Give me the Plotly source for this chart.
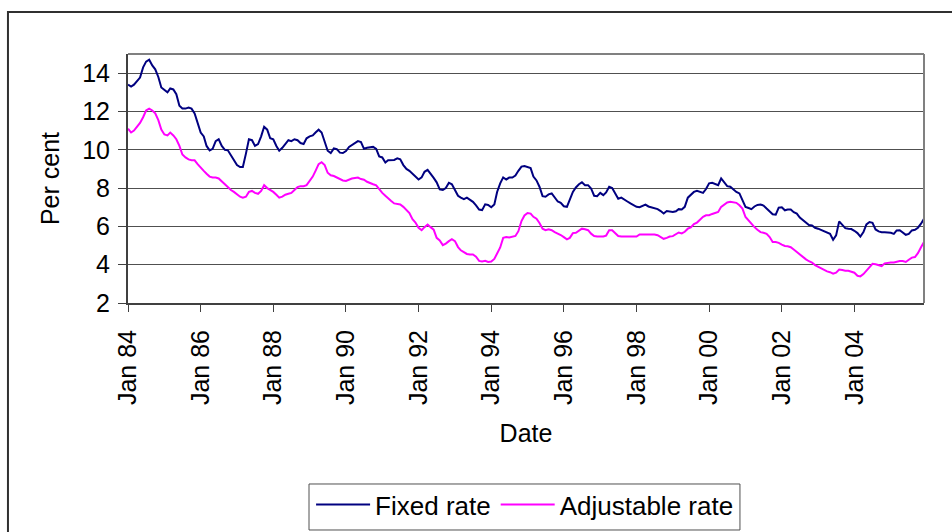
import pandas as pd
import plotly.graph_objects as go

# Monthly observations, Jan 1984 - Dec 2005
dates = pd.date_range("1984-01-01", periods=264, freq="MS")

fixed_rate = [
    13.40, 13.30, 13.40, 13.56, 13.77, 14.3, 14.6, 14.7, 14.4, 14.2,
    13.8, 13.25, 13.1, 13.0, 13.2, 13.15, 12.9, 12.3, 12.15, 12.15,
    12.2, 12.15, 11.9, 11.4, 10.9, 10.7, 10.2, 9.97, 10.05, 10.45,
    10.55, 10.2, 10.0, 9.97, 9.7, 9.4, 9.2, 9.1, 9.1, 9.8,
    10.55, 10.5, 10.2, 10.3, 10.7, 11.2, 11.05, 10.6, 10.55, 10.2,
    9.95, 10.1, 10.3, 10.5, 10.45, 10.55, 10.5, 10.35, 10.3, 10.6,
    10.7, 10.75, 10.9, 11.05, 10.9, 10.45, 9.95, 9.83, 10.07, 10.03,
    9.85, 9.83, 9.93, 10.15, 10.25, 10.35, 10.45, 10.4, 10.05, 10.1,
    10.12, 10.15, 10.05, 9.65, 9.6, 9.33, 9.45, 9.47, 9.47, 9.55,
    9.5, 9.2, 9.0, 8.9, 8.75, 8.56, 8.45, 8.56, 8.85, 8.95,
    8.77, 8.53, 8.3, 7.93, 7.9, 8.0, 8.28, 8.2, 7.9, 7.6,
    7.5, 7.42, 7.5, 7.37, 7.28, 7.1, 6.88, 6.85, 7.15, 7.12,
    7.0, 7.15, 7.8, 8.25, 8.56, 8.45, 8.55, 8.55, 8.65, 8.9,
    9.12, 9.15, 9.1, 9.04, 8.6, 8.4, 8.07, 7.58, 7.55, 7.67,
    7.72, 7.5, 7.3, 7.23, 7.05, 7.02, 7.37, 7.8, 8.03, 8.2,
    8.3, 8.15, 8.15, 7.98, 7.6, 7.58, 7.75, 7.63, 7.77, 8.07,
    8.0, 7.72, 7.44, 7.5, 7.42, 7.3, 7.2, 7.1, 7.02, 7.0,
    7.07, 7.14, 7.04, 7.0, 6.96, 6.9, 6.8, 6.67, 6.8, 6.79,
    6.75, 6.79, 6.9, 6.88, 7.02, 7.5, 7.67, 7.8, 7.86, 7.82,
    7.75, 7.95, 8.25, 8.28, 8.2, 8.15, 8.5, 8.28, 8.1, 8.07,
    7.93, 7.8, 7.72, 7.37, 7.02, 6.96, 6.9, 7.04, 7.12, 7.14,
    7.09, 6.93, 6.8, 6.63, 6.61, 6.98, 7.0, 6.84, 6.88, 6.88,
    6.74, 6.67, 6.46, 6.32, 6.18, 6.07, 6.05, 5.93, 5.88, 5.82,
    5.74, 5.7, 5.61, 5.3, 5.53, 6.26, 6.09, 5.91, 5.88, 5.86,
    5.77, 5.65, 5.47, 5.7, 6.1, 6.23, 6.19, 5.84, 5.74, 5.7,
    5.7, 5.7, 5.67, 5.61, 5.79, 5.8, 5.7, 5.56, 5.61, 5.79,
    5.82, 5.93, 6.14, 6.4,
]

adjustable_rate = [
    11.1, 10.9, 11.0, 11.2, 11.4, 11.7, 12.05, 12.15, 12.05, 11.9,
    11.55, 11.05, 10.8, 10.75, 10.9, 10.75, 10.55, 10.2, 9.75, 9.6,
    9.5, 9.45, 9.45, 9.25, 9.1, 8.9, 8.75, 8.6, 8.55, 8.55,
    8.5, 8.35, 8.15, 8.05, 7.9, 7.8, 7.65, 7.55, 7.5, 7.55,
    7.8, 7.85, 7.75, 7.7, 7.85, 8.15, 8.0, 7.9, 7.8, 7.65,
    7.5, 7.55, 7.65, 7.7, 7.75, 7.9, 8.05, 8.1, 8.1, 8.15,
    8.4, 8.6, 8.9, 9.25, 9.35, 9.2, 8.8, 8.67, 8.63, 8.55,
    8.5, 8.4, 8.37, 8.45, 8.5, 8.53, 8.55, 8.47, 8.44, 8.33,
    8.25, 8.2, 8.14, 7.93, 7.75, 7.6, 7.45, 7.33, 7.2, 7.16,
    7.14, 7.02, 6.85, 6.7, 6.37, 6.2, 5.93, 5.8, 5.96, 6.1,
    5.96, 5.83, 5.4, 5.27, 5.02, 5.1, 5.23, 5.33, 5.23, 4.92,
    4.75, 4.67, 4.56, 4.53, 4.53, 4.42, 4.2, 4.17, 4.2, 4.14,
    4.17, 4.3, 4.6, 4.9, 5.4, 5.44, 5.42, 5.47, 5.5, 5.75,
    6.28, 6.57, 6.7, 6.67, 6.5, 6.4, 6.18, 5.88, 5.8, 5.85,
    5.8, 5.7, 5.63, 5.55, 5.44, 5.32, 5.4, 5.65, 5.67, 5.8,
    5.88, 5.85, 5.8, 5.62, 5.5, 5.47, 5.47, 5.47, 5.52, 5.8,
    5.8, 5.62, 5.5, 5.47, 5.47, 5.47, 5.47, 5.47, 5.47, 5.58,
    5.58, 5.58, 5.58, 5.58, 5.58, 5.54, 5.45, 5.35, 5.4, 5.47,
    5.49, 5.6, 5.68, 5.63, 5.72, 5.88, 5.95, 6.12, 6.2, 6.35,
    6.5, 6.58, 6.58, 6.65, 6.7, 6.75, 7.02, 7.16, 7.25, 7.28,
    7.26, 7.23, 7.1, 6.93, 6.49, 6.3, 6.14, 5.96, 5.82, 5.7,
    5.67, 5.61, 5.44, 5.18, 5.18, 5.14, 5.05, 4.98, 4.96, 4.91,
    4.79, 4.65, 4.51, 4.39, 4.28, 4.18, 4.11, 3.98, 3.89, 3.79,
    3.7, 3.65, 3.61, 3.53, 3.58, 3.75, 3.72, 3.68, 3.68, 3.65,
    3.58, 3.42, 3.39, 3.51, 3.67, 3.86, 4.05, 4.02, 3.96, 3.93,
    4.07, 4.11, 4.12, 4.12, 4.16, 4.19, 4.19, 4.14, 4.26, 4.37,
    4.4, 4.6, 4.91, 5.18,
]

x_tick_dates = ["1984-01-01", "1986-01-01", "1988-01-01", "1990-01-01",
                "1992-01-01", "1994-01-01", "1996-01-01", "1998-01-01",
                "2000-01-01", "2002-01-01", "2004-01-01"]
x_tick_labels = ["Jan 84", "Jan 86", "Jan 88", "Jan 90", "Jan 92", "Jan 94",
                 "Jan 96", "Jan 98", "Jan 00", "Jan 02", "Jan 04"]
y_ticks = [2, 4, 6, 8, 10, 12, 14]

FONT = "Liberation Sans, Arial, sans-serif"

fig = go.Figure()
fig.add_trace(go.Scatter(x=dates, y=fixed_rate, mode="lines", name="Fixed rate",
                         line=dict(color="#000080", width=2)))
fig.add_trace(go.Scatter(x=dates, y=adjustable_rate, mode="lines", name="Adjustable rate",
                         line=dict(color="#FF00FF", width=2)))

fig.update_layout(
    template="none",
    width=952, height=532,
    margin=dict(l=128, r=28, t=54, b=229, autoexpand=False),
    paper_bgcolor="white", plot_bgcolor="white",
    font=dict(family=FONT, size=25, color="black"),
    showlegend=True,
    legend=dict(orientation="h", x=0.2300, xanchor="left", y=-0.715, yanchor="top",
                bgcolor="rgba(0,0,0,0)", borderwidth=0,
                font=dict(size=26), itemwidth=54, tracegroupgap=0),
    xaxis=dict(
        type="date", range=[dates[0], dates[-1]], automargin=False,
        tickmode="array", tickvals=x_tick_dates, ticktext=x_tick_labels,
        tickangle=-90, ticks="outside", ticklen=7, tickcolor="#404040", tickwidth=1,
        showgrid=False, showline=True, linecolor="#404040", linewidth=2,
        zeroline=False, ticklabelstandoff=8,
        title=dict(text="Date", standoff=20, font=dict(size=25)),
    ),
    yaxis=dict(
        range=[2, 15], automargin=False, tickmode="array", tickvals=y_ticks,
        ticks="outside", ticklen=8, tickcolor="#404040", tickwidth=1,
        showgrid=True, gridcolor="#505050", gridwidth=1,
        showline=True, linecolor="#404040", linewidth=2, zeroline=False,
        ticklabelstandoff=3,
        title=dict(text="Per cent", standoff=15, font=dict(size=25)),
    ),
    shapes=[
        # plot area border (top and right)
        dict(type="line", xref="paper", yref="paper", x0=0, x1=1, y0=1, y1=1,
             line=dict(color="#808080", width=2)),
        dict(type="line", xref="paper", yref="paper", x0=1, x1=1, y0=0, y1=1,
             line=dict(color="#808080", width=2)),
        # outer chart border
        dict(type="rect", xref="paper", yref="paper",
             x0=-0.1508, x1=1.3, y0=-1.3, y1=1.1687,
             line=dict(color="#303030", width=2), fillcolor="rgba(0,0,0,0)"),
        # legend frame
        dict(type="rect", xref="paper", yref="paper",
             x0=0.2274, x1=0.7688, y0=-0.9116, y1=-0.7269,
             line=dict(color="#505050", width=1), fillcolor="rgba(0,0,0,0)"),
    ],
)

fig.write_html("out.html")
